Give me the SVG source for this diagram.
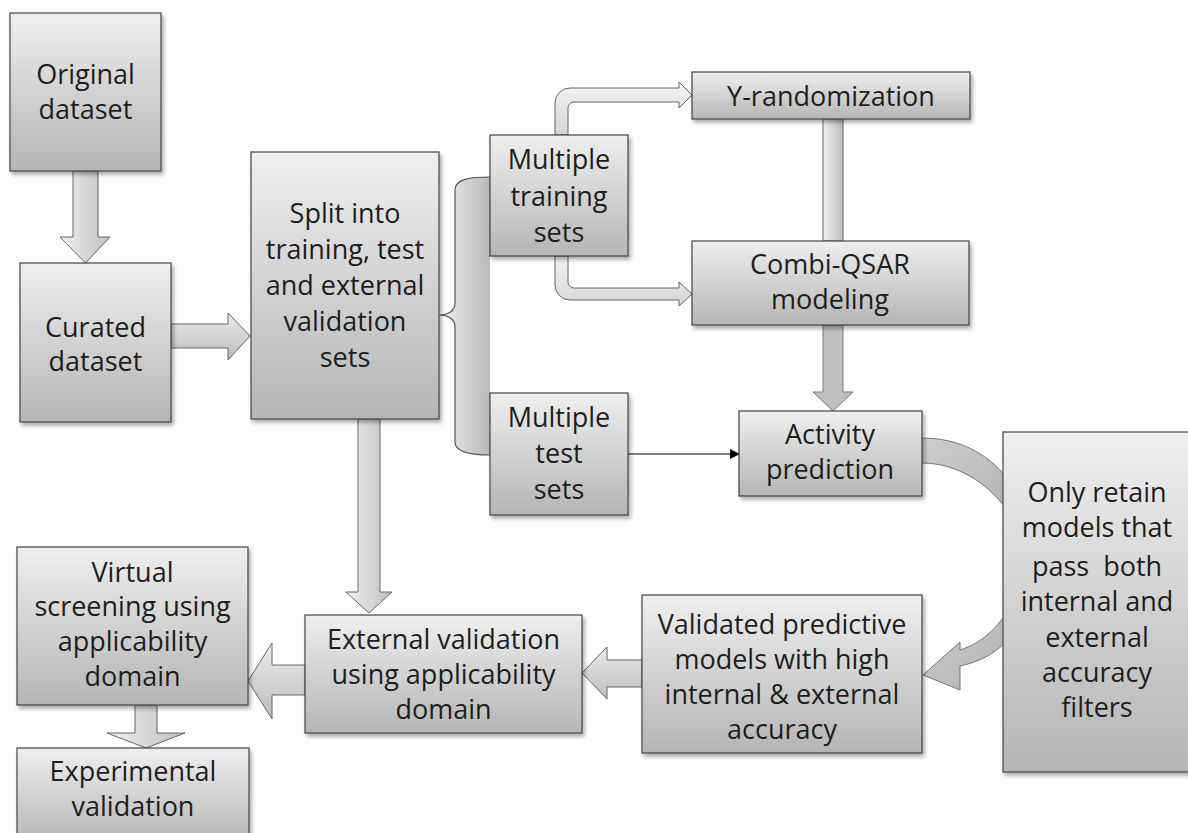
<svg xmlns="http://www.w3.org/2000/svg" width="1188" height="833" viewBox="0 0 1188 833">
<style>
.box{fill:url(#boxg);stroke:#444;stroke-width:1.2;filter:url(#sh)}
.t{font-family:"Open Sans","Liberation Sans",sans-serif;font-size:27px;fill:#1e1e1e;text-anchor:middle}
.arr{fill:url(#arrh);stroke:#666;stroke-width:1}
.arrv{fill:url(#arrv);stroke:#666;stroke-width:1}
.dark{fill:#bfbfbf;stroke:#7a7a7a;stroke-width:1}
</style>
<defs>
<linearGradient id="boxg" x1="0" y1="0" x2="0" y2="1"><stop offset="0" stop-color="#efefef"/><stop offset="1" stop-color="#b5b5b5"/></linearGradient>
<linearGradient id="arrh" x1="0" y1="0" x2="1" y2="0"><stop offset="0" stop-color="#f2f2f2"/><stop offset="1" stop-color="#bdbdbd"/></linearGradient>
<linearGradient id="arrv" x1="0" y1="0" x2="0" y2="1"><stop offset="0" stop-color="#ececec"/><stop offset="1" stop-color="#bcbcbc"/></linearGradient>
<linearGradient id="bent" x1="0" y1="0" x2="0" y2="1"><stop offset="0" stop-color="#f4f4f4"/><stop offset="1" stop-color="#d6d6d6"/></linearGradient>
<linearGradient id="brace" x1="0" y1="0" x2="1" y2="0"><stop offset="0" stop-color="#f0f0f0"/><stop offset="1" stop-color="#b9b9b9"/></linearGradient>
<linearGradient id="circ" x1="0" y1="0" x2="1" y2="1"><stop offset="0" stop-color="#cdcdcd"/><stop offset="1" stop-color="#b2b2b2"/></linearGradient>
<filter id="sh" x="-10%" y="-10%" width="130%" height="130%"><feDropShadow dx="2" dy="3" stdDeviation="2" flood-color="#000" flood-opacity="0.35"/></filter>
<marker id="tri" markerWidth="10" markerHeight="10" refX="9" refY="5" orient="auto" markerUnits="userSpaceOnUse"><path d="M0,0 L10,5 L0,10 Z" fill="#000"/></marker>
</defs>

<g id="connectors">
<!-- Original -> Curated -->
<path class="arr" d="M73,171 L98,171 L98,237 L110,237 L85.5,263 L60,237 L73,237 Z"/>
<!-- Curated -> Split -->
<path class="arrv" d="M171,324 L228,324 L228,313 L250,336 L228,360 L228,348 L171,348 Z"/>
<!-- Split -> External validation -->
<path class="arr" d="M358,419 L380,419 L380,592 L392,592 L369,613 L346,592 L358,592 Z"/>
<!-- Brace -->
<path d="M490,177 C470,177 455,179 455,190 L455,303 C455,311 448,315 439,315 C448,315 455,319 455,327 L455,442 C455,452 470,455 490,455 Z" fill="url(#brace)" stroke="none"/>
<path d="M490,177 C470,177 455,179 455,190 L455,303 C455,311 448,315 439,315 C448,315 455,319 455,327 L455,442 C455,452 470,455 490,455" fill="none" stroke="#555" stroke-width="1.2"/>
<!-- Training -> Y-randomization -->
<path d="M555,135 L555,103 A15,15 0 0 1 570,88 L679,88 L679,82 L692,95 L679,108 L679,102 L574,102 A6,6 0 0 0 568,108 L568,135 Z" fill="url(#bent)" stroke="#666" stroke-width="1"/>
<!-- Training -> Combi-QSAR -->
<path d="M555,256 L555,285 A15,15 0 0 0 570,300 L679,300 L679,306 L692,294 L679,282 L679,288 L574,288 A6,6 0 0 1 568,282 L568,256 Z" fill="url(#bent)" stroke="#666" stroke-width="1"/>
<!-- Y-randomization - Combi-QSAR -->
<rect x="823" y="119" width="20" height="122" fill="url(#arrh)" stroke="#666" stroke-width="1"/>
<!-- Combi-QSAR -> Activity -->
<path class="dark" d="M823,325 L843,325 L843,392 L853,392 L833,411 L813,392 L823,392 Z"/>
<!-- Test sets -> Activity -->
<line x1="628" y1="454" x2="739" y2="454" stroke="#000" stroke-width="1" marker-end="url(#tri)"/>
<!-- Circular arrow Activity -> Only retain -> Validated -->
<path d="M922,438 C957,438 992,452 1015,490 L1015,522 C995,487 960,463 922,463 Z" fill="url(#circ)" stroke="#777" stroke-width="1"/>
<path d="M1015,600 C1000,625 985,642 960,650 L960,642 L923,675 L960,690 L960,666 C988,660 1005,646 1015,630 Z" fill="url(#circ)" stroke="#777" stroke-width="1"/>
<!-- Validated -> External -->
<path class="arrv" d="M642,660 L607,660 L607,647 L582,673 L607,699 L607,687 L642,687 Z"/>
<!-- External -> Virtual -->
<path class="arrv" d="M305,665 L272,665 L272,643 L248,681 L272,719 L272,695 L305,695 Z"/>
<!-- Virtual -> Experimental -->
<path class="arr" d="M135,705 L157,705 L157,733 L185,733 L146,748 L107,733 L135,733 Z"/>
</g>

<g id="n-original"><rect class="box" x="10" y="13" width="151" height="158"/>
<text class="t" x="85.5" y="84">Original</text><text class="t" x="85.5" y="119">dataset</text></g>

<g id="n-curated"><rect class="box" x="20" y="263" width="151" height="159"/>
<text class="t" x="95.5" y="337">Curated</text><text class="t" x="95.5" y="371">dataset</text></g>

<g id="n-split"><rect class="box" x="251" y="152" width="188" height="267"/>
<text class="t" x="345" y="223">Split into</text><text class="t" x="345" y="259">training, test</text><text class="t" x="345" y="295">and external</text><text class="t" x="345" y="331">validation</text><text class="t" x="345" y="367">sets</text></g>

<g id="n-training"><rect class="box" x="490" y="135" width="138" height="121"/>
<text class="t" x="559" y="169">Multiple</text><text class="t" x="559" y="206">training</text><text class="t" x="559" y="242">sets</text></g>

<g id="n-test"><rect class="box" x="490" y="393" width="138" height="122"/>
<text class="t" x="559" y="427">Multiple</text><text class="t" x="559" y="463">test</text><text class="t" x="559" y="499">sets</text></g>

<g id="n-yrand"><rect class="box" x="692" y="72" width="278" height="47"/>
<text class="t" x="831" y="106">Y-randomization</text></g>

<g id="n-combi"><rect class="box" x="692" y="241" width="277" height="84"/>
<text class="t" x="830" y="274">Combi-QSAR</text><text class="t" x="830" y="309">modeling</text></g>

<g id="n-activity"><rect class="box" x="739" y="411" width="183" height="85"/>
<text class="t" x="830" y="444">Activity</text><text class="t" x="830" y="479">prediction</text></g>

<g id="n-retain"><rect class="box" x="1003" y="432" width="190" height="340"/>
<text class="t" x="1097" y="502">Only retain</text><text class="t" x="1097" y="537">models that</text><text class="t" x="1097" y="576" xml:space="preserve">pass  both</text><text class="t" x="1097" y="611">internal and</text><text class="t" x="1097" y="647">external</text><text class="t" x="1097" y="682">accuracy</text><text class="t" x="1097" y="717">filters</text></g>

<g id="n-validated"><rect class="box" x="642" y="595" width="280" height="158"/>
<text class="t" x="782" y="634">Validated predictive</text><text class="t" x="782" y="669">models with high</text><text class="t" x="782" y="704">internal &amp; external</text><text class="t" x="782" y="739">accuracy</text></g>

<g id="n-external"><rect class="box" x="305" y="615" width="277" height="118"/>
<text class="t" x="443.5" y="649">External validation</text><text class="t" x="443.5" y="684">using applicability</text><text class="t" x="443.5" y="719">domain</text></g>

<g id="n-virtual"><rect class="box" x="17" y="547" width="231" height="158"/>
<text class="t" x="132.5" y="582">Virtual</text><text class="t" x="132.5" y="616">screening using</text><text class="t" x="132.5" y="651">applicability</text><text class="t" x="132.5" y="686">domain</text></g>

<g id="n-experimental"><rect class="box" x="17" y="748" width="232" height="95"/>
<text class="t" x="133" y="781">Experimental</text><text class="t" x="133" y="816">validation</text></g>
</svg>
